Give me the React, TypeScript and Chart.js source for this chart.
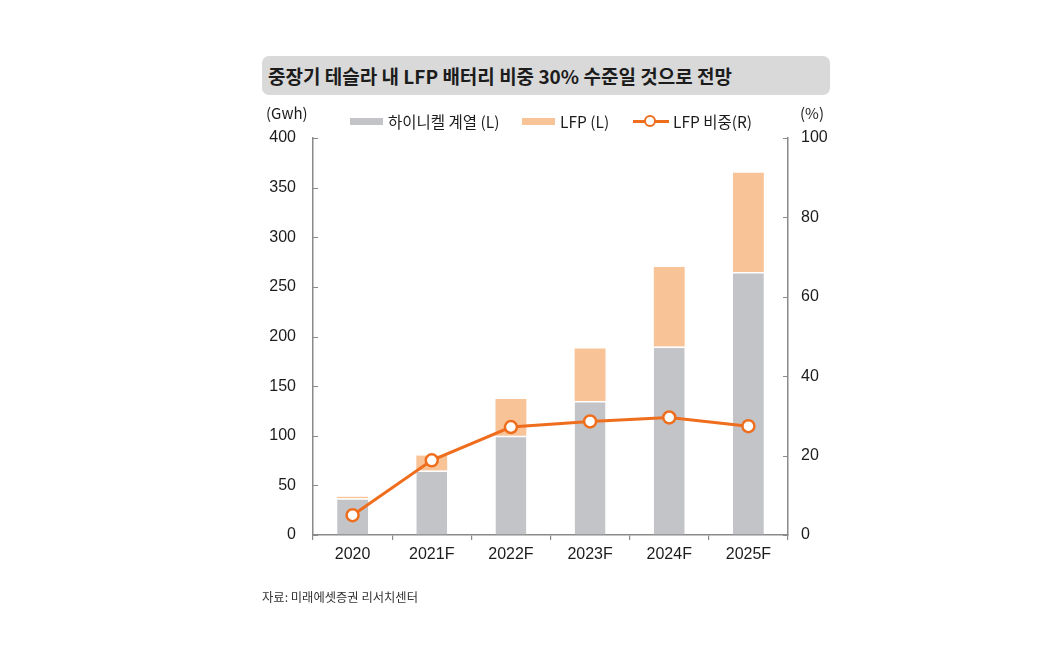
import { useEffect, useRef } from 'react';
import { Chart, registerables } from 'chart.js';

Chart.register(...registerables);

const years = ['2020', '2021F', '2022F', '2023F', '2024F', '2025F'];
const highNickel = [37, 65, 100, 135, 190, 265];
const lfp = [1.5, 15, 37, 53, 80, 100];
const lfpShare = [5, 18.8, 27.2, 28.6, 29.6, 27.4];
const leftTicks = [0, 50, 100, 150, 200, 250, 300, 350, 400];
const rightTicks = [0, 20, 40, 60, 80, 100];

const GRAY = '#c3c4c8';
const PEACH = '#f9c398';
const ORANGE = '#ef6e1e';
const AXIS = '#8a8a8a';
const TEXT = '#1c1c1c';
const FONT = '"Liberation Sans", "Noto Sans CJK KR", sans-serif';
const KFONT = '"Noto Sans CJK KR", "Liberation Sans", sans-serif';

// short tick marks pointing into the plot for both y axes
const innerTicks = {
  id: 'innerTicks',
  afterDraw(chart: any) {
    const { ctx, chartArea, scales } = chart;
    ctx.save();
    ctx.strokeStyle = AXIS;
    ctx.lineWidth = 1.2;
    ctx.beginPath();
    leftTicks.forEach(v => {
      const y = Math.round(scales.y.getPixelForValue(v)) + 0.5;
      ctx.moveTo(chartArea.left, y);
      ctx.lineTo(chartArea.left + 5, y);
    });
    rightTicks.forEach(v => {
      const y = Math.round(scales.y1.getPixelForValue(v)) + 0.5;
      ctx.moveTo(chartArea.right - 5, y);
      ctx.lineTo(chartArea.right, y);
    });
    ctx.stroke();
    ctx.restore();
  },
};

const LfpChart = () => {
  const canvasRef = useRef<HTMLCanvasElement>(null);
  const chartRef = useRef<any>(null);

  useEffect(() => {
    if (!canvasRef.current) return;
    if (chartRef.current) chartRef.current.destroy();

    chartRef.current = new Chart(canvasRef.current, {
      type: 'bar',
      data: {
        labels: years,
        datasets: [
          {
            type: 'line',
            label: 'LFP 비중(R)',
            data: lfpShare,
            yAxisID: 'y1',
            borderColor: ORANGE,
            borderWidth: 3,
            pointRadius: 6,
            pointBorderWidth: 2.5,
            pointBackgroundColor: '#ffffff',
            pointBorderColor: ORANGE,
            tension: 0,
            order: 0,
          },
          {
            label: '하이니켈 계열 (L)',
            data: highNickel,
            backgroundColor: GRAY,
            borderColor: '#ffffff',
            borderWidth: { top: 1.5, left: 0, right: 0, bottom: 0 },
            borderSkipped: 'start',
            stack: 's',
            order: 1,
          },
          {
            label: 'LFP (L)',
            data: lfp,
            backgroundColor: PEACH,
            borderWidth: 0,
            stack: 's',
            order: 1,
          },
        ],
      },
      options: {
        responsive: false,
        animation: false,
        layout: { padding: { top: 138, left: 0, right: 0, bottom: 0 } },
        datasets: { bar: { categoryPercentage: 1, barPercentage: 0.39 } },
        plugins: { legend: { display: false }, tooltip: { enabled: false } },
        scales: {
          x: {
            stacked: true,
            grid: { display: true, drawOnChartArea: false, drawTicks: true, tickLength: 5, color: AXIS, lineWidth: 1.2 },
            border: { display: true, color: AXIS, width: 1.5 },
            ticks: { color: TEXT, padding: 5, font: { family: FONT, size: 16 } },
            afterFit: (s: any) => { s.height = 656 - 535; },
          },
          y: {
            stacked: true,
            position: 'left',
            min: 0,
            max: 400,
            afterBuildTicks: (s: any) => { s.ticks = leftTicks.map(v => ({ value: v })); },
            grid: { display: true, drawOnChartArea: false, drawTicks: false },
            border: { display: true, color: AXIS, width: 1.5 },
            ticks: { color: TEXT, padding: 17, font: { family: FONT, size: 16 } },
            afterFit: (s: any) => { s.width = 313; },
          },
          y1: {
            position: 'right',
            min: 0,
            max: 100,
            afterBuildTicks: (s: any) => { s.ticks = rightTicks.map(v => ({ value: v })); },
            grid: { display: true, drawOnChartArea: false, drawTicks: false },
            border: { display: true, color: AXIS, width: 1.5 },
            ticks: { color: TEXT, padding: 13, font: { family: FONT, size: 16 } },
            afterFit: (s: any) => { s.width = 1052 - 788; },
          },
        },
      },
      plugins: [innerTicks],
    } as any);

    return () => { if (chartRef.current) chartRef.current.destroy(); };
  }, []);

  const txt = (extra: any) => ({ position: 'absolute', color: TEXT, fontFamily: KFONT, whiteSpace: 'nowrap', ...extra });

  return (
    <div style={{ position: 'absolute', left: 0, top: 0, width: 1052, height: 656, background: '#fff' }}>
      <canvas ref={canvasRef} width={1052} height={656} style={{ position: 'absolute', left: 0, top: 0 }}></canvas>

      <div style={txt({ left: 262, top: 56, width: 568, height: 39, background: '#d9d9d9', borderRadius: 7,
        fontWeight: 'bold', fontSize: 19, lineHeight: '39px', paddingLeft: 6, boxSizing: 'border-box' })}>
        중장기 테슬라 내 LFP 배터리 비중 30% 수준일 것으로 전망
      </div>

      <div style={txt({ left: 266, top: 103, fontSize: 15, lineHeight: '20px' })}>(Gwh)</div>
      <div style={txt({ left: 800, top: 103, fontSize: 15, lineHeight: '20px' })}>(%)</div>

      <div style={{ position: 'absolute', left: 350, top: 117.5, width: 33, height: 7, background: GRAY }}></div>
      <div style={txt({ left: 388, top: 111, fontSize: 15.5, lineHeight: '20px' })}>하이니켈 계열 (L)</div>
      <div style={{ position: 'absolute', left: 522, top: 117.5, width: 33, height: 7, background: PEACH }}></div>
      <div style={txt({ left: 560, top: 111, fontSize: 15.5, lineHeight: '20px' })}>LFP (L)</div>
      <div style={{ position: 'absolute', left: 633, top: 119.5, width: 36, height: 3, background: ORANGE }}></div>
      <div style={{ position: 'absolute', left: 644, top: 114.5, width: 8, height: 8, borderRadius: '50%',
        background: '#fff', border: `2.5px solid ${ORANGE}` }}></div>
      <div style={txt({ left: 673, top: 111, fontSize: 15.5, lineHeight: '20px' })}>LFP 비중(R)</div>

      <div style={txt({ left: 262, top: 589, fontSize: 12.3, lineHeight: '16px', color: '#333' })}>자료: 미래에셋증권 리서치센터</div>
    </div>
  );
};

export default function App() {
  return <LfpChart />;
}
